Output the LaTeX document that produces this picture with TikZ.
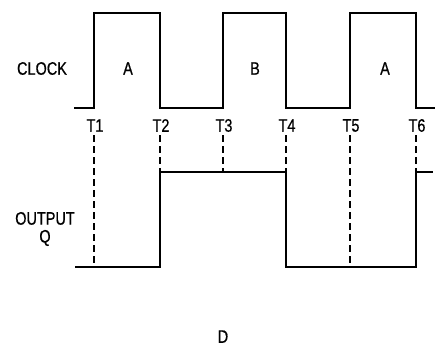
\documentclass[tikz,border=0pt]{standalone}
\usepackage{fontspec}
\setmainfont{Liberation Sans}[FakeStretch=0.8, FakeBold=0.6]
\usetikzlibrary{calc}

\begin{document}
\begin{tikzpicture}[x=0.02cm, y=-0.02cm,
      wave/.style={line width=1.2pt, line join=miter},
      guide/.style={line width=0.85pt, dash pattern=on 0.14cm off 0.08cm},
      lbl/.style={inner sep=0pt, align=center,
                  font=\fontsize{10.3}{10.2}\selectfont}
    ]
    \useasboundingbox (0,0) rectangle (443,344);

    \coordinate (cs) at (74,108);  \coordinate (ce) at (435,108);
    \coordinate (qs) at (75,267);  \coordinate (qe) at (433,172);
    \foreach \i/\x in {1/94, 2/160, 3/223, 4/286, 5/350, 6/416} {
      \coordinate (c\i) at (\x,108);
      \coordinate (q\i) at (\x,267);
      \coordinate (h\i) at (\x,172);
      \node[lbl] (T\i) at (\x+1,125.5) {T\i};
    }

    \node[lbl] (clk) at (42,68.5) {CLOCK};
    \node[lbl] (outq) at (45,229) {OUTPUT\\Q};
    \node[lbl] (pa) at (128,68.5) {A};
    \node[lbl] (pb) at (255,68.5) {B};
    \node[lbl] (pc) at (385,68.5) {A};
    \node[lbl, anchor=north] (fig) at (223,330) {D};

    \draw[wave] (cs) -- (c1) -- ++(0,-95) -| (c2) -- (c3) -- ++(0,-95) -| (c4)
      -- (c5) -- ++(0,-95) -| (c6) -- (ce);
    \draw[wave] (qs) -- (q2) |- (h4) -- (q4) -- (q6) |- (qe);

    \foreach \i/\e in {1/q1, 2/h2, 3/h3, 4/h4, 5/q5, 6/h6}
      \draw[guide] ($(T\i.south)+(-1,3)$) -- (\e);
  \end{tikzpicture}
\end{document}
